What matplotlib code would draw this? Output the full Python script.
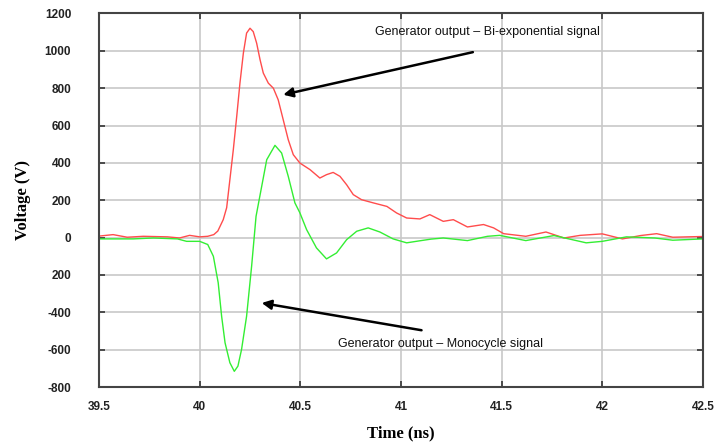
import numpy as np
import matplotlib
matplotlib.use("Agg")
import matplotlib.pyplot as plt

# bi-exponential generator output (red)
bi_t = [39.50, 39.57, 39.64, 39.72, 39.84, 39.90, 39.95, 40.00, 40.04, 40.07,
        40.09, 40.117, 40.134, 40.15, 40.167, 40.184, 40.20, 40.217, 40.233, 40.25,
        40.266, 40.283, 40.30, 40.316, 40.341, 40.366, 40.39, 40.415, 40.44, 40.465,
        40.498, 40.548, 40.597, 40.63, 40.663, 40.697, 40.73, 40.763, 40.804, 40.862,
        40.93, 40.978, 41.028, 41.094, 41.143, 41.21, 41.26, 41.33, 41.41, 41.46,
        41.51, 41.62, 41.72, 41.81, 41.89, 42.00, 42.10, 42.19, 42.27, 42.35, 42.50]
bi_v = [8, 16, 2, 7, 4, -2, 12, 4, 7, 16,
        35, 96, 160, 310, 470, 649, 827, 988, 1095, 1121,
        1103, 1041, 952, 881, 827, 800, 738, 631, 524, 444,
        399, 364, 319, 337, 349, 328, 283, 230, 203, 186,
        167, 132, 105, 100, 123, 87, 96, 57, 70, 52,
        21, 7, 30, -2, 12, 20, -7, 11, 21, 2, 6]

# monocycle generator output (green)
mono_t = [39.50, 39.67, 39.77, 39.89, 39.935, 40.00, 40.04, 40.068, 40.092, 40.109,
          40.126, 40.15, 40.172, 40.19, 40.208, 40.233, 40.258, 40.28, 40.308, 40.333,
          40.374, 40.407, 40.44, 40.473, 40.498, 40.531, 40.58, 40.63, 40.68, 40.73,
          40.78, 40.837, 40.895, 40.961, 41.028, 41.094, 41.15, 41.21, 41.33, 41.43,
          41.49, 41.62, 41.76, 41.92, 42.00, 42.12, 42.26, 42.35, 42.50]
mono_v = [-7, -7, -2, -7, -20, -20, -37, -100, -242, -421,
          -563, -670, -716, -688, -599, -421, -153, 114, 274, 417,
          494, 453, 328, 186, 132, 43, -55, -114, -82, -11,
          34, 52, 30, -7, -28, -17, -8, -2, -16, 7,
          12, -16, 11, -28, -20, 4, -2, -14, -7]

x_ticks = [39.5, 40, 40.5, 41, 41.5, 42, 42.5]
x_labels = ["39.5", "40", "40.5", "41", "41.5", "42", "42.5"]
y_ticks = [-800, -600, -400, -200, 0, 200, 400, 600, 800, 1000, 1200]
y_labels = ["-800", "-600", "-400", "200", "0", "200", "400", "600", "800", "1000", "1200"]

fig = plt.figure(figsize=(7.16, 4.45), dpi=100)
ax = fig.add_axes([0.1383, 0.1303, 0.8435, 0.8394])

ax.plot(bi_t, bi_v, color="#ff4c4c", lw=1.0)
ax.plot(mono_t, mono_v, color="#33ee33", lw=1.0)

ax.set_xlim(39.5, 42.5)
ax.set_ylim(-800, 1200)
ax.set_xticks(x_ticks)
ax.set_xticklabels(x_labels)
ax.set_yticks(y_ticks)
ax.set_yticklabels(y_labels)
ax.grid(True, color="#c8c8c8", lw=1.2)
ax.set_axisbelow(True)

ax.tick_params(direction="in", length=4, width=1.2, color="#333333",
               top=True, right=True, labelsize=8.5, labelcolor="#222222")
ax.tick_params(axis="y", pad=20)
ax.tick_params(axis="x", pad=10)
for lbl in ax.get_xticklabels() + ax.get_yticklabels():
    lbl.set_fontweight("bold")
    lbl.set_family("Liberation Sans")
for s in ax.spines.values():
    s.set_color("#444444")
    s.set_linewidth(1.5)

ax.set_xlabel("Time (ns)", family="Liberation Serif", fontweight="bold", fontsize=12, labelpad=9)
ax.set_ylabel("Voltage (V)", family="Liberation Serif", fontweight="bold", fontsize=12, labelpad=10)

arrow = dict(arrowstyle="-|>", color="black", lw=1.8, mutation_scale=14, shrinkA=0, shrinkB=0)
ax.annotate("", xy=(40.415, 765), xytext=(41.357, 993), arrowprops=arrow)
ax.annotate("", xy=(40.308, -350), xytext=(41.102, -496), arrowprops=arrow)
ax.text(40.87, 1102, "Generator output \u2013 Bi-exponential signal",
        family="Liberation Sans", fontsize=9, va="center", ha="left", color="#111111")
ax.text(40.688, -572, "Generator output \u2013 Monocycle signal",
        family="Liberation Sans", fontsize=9, va="center", ha="left", color="#111111")

fig.savefig("out.png", dpi=100)
